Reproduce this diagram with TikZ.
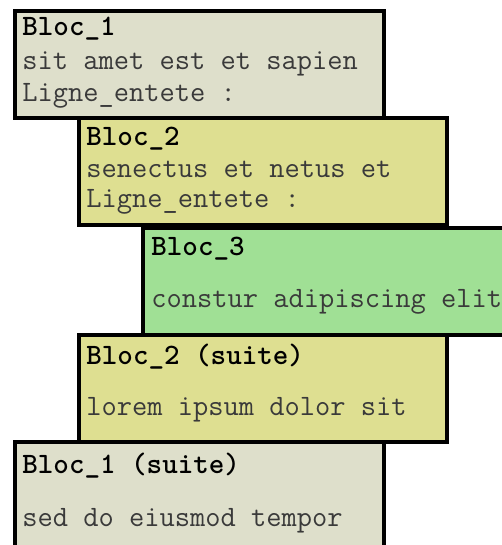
\documentclass[tikz,border=0pt]{standalone}
\usepackage{xcolor}
\usetikzlibrary{positioning}
\definecolor{grisbloc}{HTML}{DEDFCB}
\definecolor{jaunebloc}{HTML}{DEDF91}
\definecolor{vertbloc}{HTML}{A0E095}
\definecolor{textebloc}{HTML}{3A3A3A}
\tikzset{
  bloc/.style={draw=black, line width=1.9pt},
  titre/.style={anchor=base west, inner sep=0pt, font=\ttfamily\bfseries\fontsize{14.8}{16}\selectfont},
  ligne/.style={anchor=base west, inner sep=0pt, text=textebloc, font=\ttfamily\fontsize{14.8}{16}\selectfont}
}
\begin{document}
\begin{tikzpicture}[x=0.5pt, y=-0.5pt]
    \useasboundingbox (0,0) rectangle (502,545);
    % Bloc 1
    \draw[bloc, fill=grisbloc] (15,11) rectangle (384,118);
    \node[titre] (t1) at (22,36) {Bloc\_1};
    \node[ligne] (l1a) at (22,70) {sit amet est et sapien};
    \node[ligne] (l1b) at (22,102) {Ligne\_entete :};

    % Bloc 2
    \draw[bloc, fill=jaunebloc] (79,118) rectangle (447,225);
    \node[titre] (t2) at (86,146) {Bloc\_2};
    \node[ligne] (l2a) at (86,177) {senectus et netus et};
    \node[ligne] (l2b) at (86,207) {Ligne\_entete :};

    % Bloc 3
    \draw[bloc, fill=vertbloc] (143,228) rectangle (510,335);
    \node[titre] (t3) at (151,255) {Bloc\_3};
    \node[ligne] (l3a) at (151,307) {constur adipiscing elit};

    % Bloc 2 (suite)
    \draw[bloc, fill=jaunebloc] (79,335) rectangle (447,442);
    \node[titre] (t2s) at (86,364) {Bloc\_2 (suite)};
    \node[ligne] (l2s) at (86,415) {lorem ipsum dolor sit};

    % Bloc 1 (suite)
    \draw[bloc, fill=grisbloc] (15,442) rectangle (384,560);
    \node[titre] (t1s) at (22,473) {Bloc\_1 (suite)};
    \node[ligne] (l1s) at (22,526) {sed do eiusmod tempor};
\end{tikzpicture}
\end{document}
